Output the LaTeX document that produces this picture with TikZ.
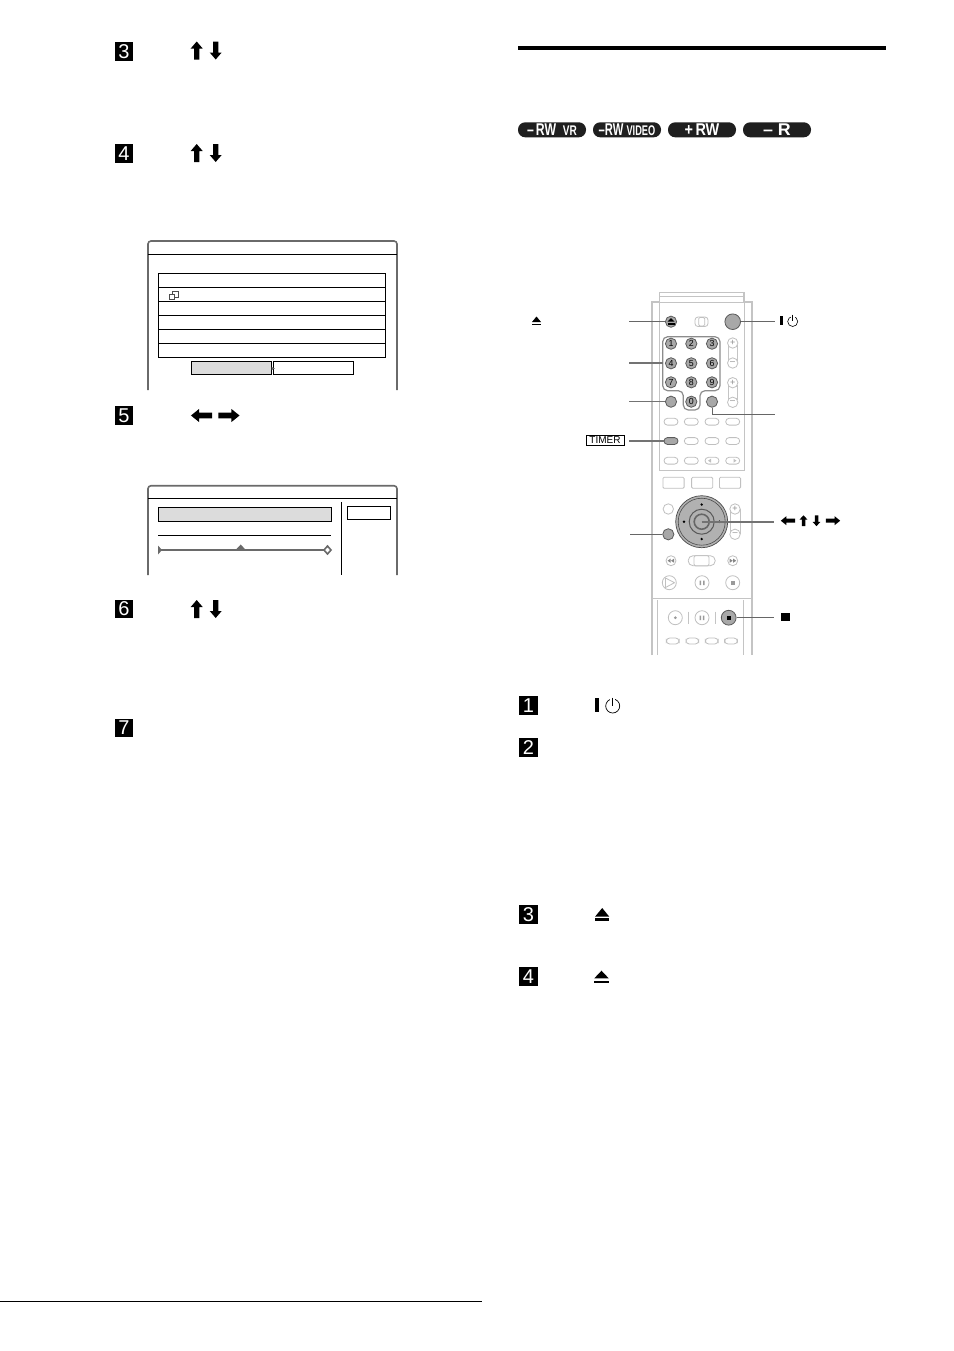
\documentclass[tikz,border=0pt]{standalone}
\usepackage{fontspec}
\usepackage{graphicx}
\setmainfont{Liberation Sans}
\definecolor{remote}{HTML}{C4C4C4}
\definecolor{btnfill}{HTML}{A8A8A8}
\definecolor{btnedge}{HTML}{5A5A5A}
\definecolor{softline}{HTML}{C0C0C0}
\definecolor{framegray}{HTML}{6A6A6A}
\definecolor{panelgray}{HTML}{DCDCDC}
\tikzset{
  numbox/.style={fill=black,text=white,minimum size=9.2pt,inner sep=0pt,font=\fontsize{10}{10}\selectfont},
  badge/.style={fill=black!88,text=white,rounded corners=3.6pt,minimum width=34pt,minimum height=7.5pt,inner sep=0pt,font=\bfseries\fontsize{8.5}{8.5}\selectfont},
  frameline/.style={draw=framegray,line width=.8pt},
  thinblack/.style={draw=black,line width=.5pt},
  leader/.style={draw=black!60,line width=.5pt},
  heavyleader/.style={draw=black!55,line width=.9pt},
  rbody/.style={draw=remote,line width=.8pt},
  rinner/.style={draw=remote,line width=.45pt},
  softbtn/.style={circle,draw=softline,line width=.4pt,fill=white,inner sep=0pt},
  softoval/.style={rectangle,draw=softline,line width=.4pt,fill=white,rounded corners=1.7pt,inner sep=0pt,minimum width=7pt,minimum height=3.4pt},
  softbox/.style={rectangle,draw=softline,line width=.4pt,fill=white,rounded corners=.6pt,inner sep=0pt,minimum width=10.6pt,minimum height=5.5pt},
  hotbtn/.style={circle,draw=btnedge,line width=.4pt,fill=btnfill,inner sep=0pt,minimum size=5.6pt},
  digitbtn/.style={hotbtn,minimum size=5.6pt,font=\fontsize{4.4}{4.4}\selectfont,text=black},
  softmark/.style={text=softline,inner sep=0pt,font=\fontsize{4.5}{4.5}\selectfont},
}
\newcommand{\myarr}[6]{\fill[shift={(#1,#2)},rotate=#3,xscale=#4,yscale=#5,#6] (0,-9)--(6,-2)--(2.7,-2)--(2.7,9)--(-2.7,9)--(-2.7,-2)--(-6,-2)--cycle;}
\begin{document}
\begin{tikzpicture}[x=.5pt,y=-.5pt]
\useasboundingbox (0,0) rectangle (954,1351);
\fill[white] (0,0) rectangle (954,1351);

% step boxes
\node[numbox] (s3) at (124,51.5) {3};
\node[numbox] (s4) at (124,153.5) {4};
\node[numbox] (s5) at (124,415.5) {5};
\node[numbox] (s6) at (124,609) {6};
\node[numbox] (s7) at (124,728) {7};
\node[numbox] (r1) at (528.5,705.5) {1};
\node[numbox] (r2) at (528.5,747.5) {2};
\node[numbox] (r3) at (528.5,914.5) {3};
\node[numbox] (r4) at (528.5,976.5) {4};

% arrow glyphs
\myarr{196.7}{50.5}{0}{1}{1}{black}
\myarr{215.7}{50.5}{180}{1}{1}{black}
\myarr{196.7}{153}{0}{1}{1}{black}
\myarr{215.7}{153}{180}{1}{1}{black}
\myarr{201.5}{415.5}{90}{1.1}{1.17}{black}
\myarr{229}{415.5}{-90}{1.1}{1.17}{black}
\myarr{196.7}{609}{0}{1}{1}{black}
\myarr{215.7}{609}{180}{1}{1}{black}

% screen 1
\draw[frameline,rounded corners=1.5pt] (148,390)--(148,241)--(397,241)--(397,390);
\draw[thinblack] (148,254.4)--(397,254.4);
\draw[thinblack] (158.3,273.3) rectangle (385.3,357.3);
\foreach \yy in {287.3,301.3,315.3,329.3,343.3} \draw[thinblack] (158.3,\yy)--(385.3,\yy);
\draw[draw=black!70,line width=.35pt] (172,291.7) rectangle (178,297);
\draw[draw=black!70,line width=.35pt,fill=white] (169.5,294.3) rectangle (174.5,299.7);
\draw[thinblack,fill=panelgray] (191.5,361.3) rectangle (271.7,374.7);
\draw[thinblack] (273.4,361.3) rectangle (353.7,374.7);
\fill[black!60] (271.7,367) -- (275,368.5) -- (271.7,370) -- cycle;

% screen 2
\draw[frameline,rounded corners=1.5pt] (148,575)--(148,485.7)--(397,485.7)--(397,575);
\draw[thinblack] (148,498.4)--(397,498.4);
\draw[thinblack,fill=panelgray] (158.3,507.3) rectangle (331.7,521.3);
\draw[thinblack] (158,535.3)--(331,535.3);
\draw[draw=framegray,line width=1.1pt] (158,550)--(328,550);
\fill[framegray] (158,545.5)--(162,550)--(158,554.5)--cycle;
\fill[framegray] (236.5,549)--(240.7,544.5)--(244.9,549)--cycle;
\draw[draw=framegray,line width=.8pt,fill=white] (324,550)--(327.5,546)--(331,550)--(327.5,554)--cycle;
\draw[thinblack] (341.3,502)--(341.3,575);
\draw[thinblack] (347.3,506.3) rectangle (390.3,519.7);

% right column head
\fill[black] (518,46) rectangle (886,50);
\node[badge] (b1) at (552,129.8) {\scalebox{.72}[1]{–\,RW\ \ \fontsize{7}{7}\selectfont VR}};
\node[badge] (b2) at (627,129.8) {\scalebox{.66}[1]{–RW\ \fontsize{7}{7}\selectfont VIDEO}};
\node[badge] (b3) at (702,129.8) {\scalebox{.85}[1]{+\,RW}};
\node[badge] (b4) at (777,129.8) {\scalebox{1.05}[1]{–\ R}};

% remote body
\draw[rbody] (651.7,655)--(651.7,302)--(659.3,302)--(659.3,292.3)--(744,292.3)--(744,302)--(751.7,302)--(751.7,655);
\draw[rinner] (659.3,296.5)--(744,296.5);
\draw[rinner] (659.3,302)--(659.3,470)--(744,470)--(744,302);
\draw[rinner] (659.3,302)--(744,302);
\draw[rbody] (651.7,598.3)--(751.7,598.3);
\draw[rinner] (657,600)--(657,655);
\draw[rinner] (743,600)--(743,655);

% number pad outline
\draw[draw=black!45,line width=.6pt,rounded corners=2.5pt] (662.7,336.7)--(720,336.7)--(720,390.7)--(700,390.7)--(700,410)--(683.3,410)--(683.3,390.7)--(662.7,390.7)--cycle;

% volume capsules
\draw[rinner] (728,345)--(728,361) (737.4,345)--(737.4,361);
\draw[rinner] (728,385)--(728,400) (737.4,385)--(737.4,400);
\node[softbtn,minimum size=5.2pt,softmark,text=black!45] (vp1) at (732.7,343) {+};
\node[softbtn,minimum size=5.2pt,softmark,text=black!45] (vm1) at (732.7,363) {–};
\node[softbtn,minimum size=5.2pt,softmark,text=black!45] (vp2) at (732.7,382.7) {+};
\node[softbtn,minimum size=5.2pt,softmark,text=black!45] (vm2) at (732.7,402.3) {–};

% upper buttons
\node[hotbtn,minimum size=5.6pt] (eject) at (671,321.7) {};
\fill[black] (667.5,321.5)--(671,318)--(674.5,321.5)--cycle;
\fill[black] (667.5,323)rectangle(674.5,324.5);
\draw[draw=softline,line width=.4pt,rounded corners=1.5pt] (695,317) rectangle (708,326.5);
\node[softbox,minimum width=3pt,minimum height=4.2pt] (sw) at (701.7,321.7) {};
\node[hotbtn,minimum size=7.8pt] (pwr) at (732.7,321.7) {};
\node[digitbtn] (k1) at (671,343.7) {1};
\node[digitbtn] (k2) at (691.3,343.7) {2};
\node[digitbtn] (k3) at (712,343.7) {3};
\node[digitbtn] (k4) at (671,363.3) {4};
\node[digitbtn] (k5) at (691.3,363.3) {5};
\node[digitbtn] (k6) at (712,363.3) {6};
\node[digitbtn] (k7) at (671,382.3) {7};
\node[digitbtn] (k8) at (691.3,382.3) {8};
\node[digitbtn] (k9) at (712,382.3) {9};
\node[digitbtn] (k0) at (691.3,401.7) {0};
\node[hotbtn] (kl) at (671,401.7) {};
\node[hotbtn] (kr) at (712,401.7) {};
\node[softoval] (o11) at (671,421.7) {};
\node[softoval] (o12) at (691.3,421.7) {};
\node[softoval] (o13) at (712,421.7) {};
\node[softoval] (o14) at (732.7,421.7) {};
\node[softoval,draw=btnedge,fill=btnfill] (timerb) at (671,441) {};
\node[softoval] (o22) at (691.3,441) {};
\node[softoval] (o23) at (712,441) {};
\node[softoval] (o24) at (732.7,441) {};
\node[softoval] (o31) at (671,460.7) {};
\node[softoval] (o32) at (691.3,460.7) {};
\node[softoval] (o33) at (712,460.7) {};
\node[softoval] (o34) at (732.7,460.7) {};
\fill[softline] (708,460.7)--(711,458.7)--(711,462.7)--cycle;
\fill[softline] (736.5,460.7)--(733.5,458.7)--(733.5,462.7)--cycle;

% middle buttons
\node[softbox] (m1) at (673.5,482.8) {};
\node[softbox] (m2) at (702.2,482.8) {};
\node[softbox] (m3) at (730,482.8) {};
\draw[rinner] (730,509)--(730,534) (740,509)--(740,534);
\node[softbtn,minimum size=5.2pt,softmark,text=black!45] (vp3) at (735,509) {+};
\node[softbtn,minimum size=5.2pt,softmark,text=black!45] (vm3) at (735,534.3) {–};
\node[softbtn,minimum size=5.2pt] (c1) at (668.3,509) {};
\node[hotbtn] (mn) at (668.3,534.3) {};
\node[circle,draw=black!70,line width=.35pt,fill=btnfill!90,minimum size=26pt,inner sep=0pt] (joy) at (701.7,521.7) {};
\draw[draw=black!70,line width=.3pt] (joy.center) circle (23.5);
\draw[draw=black!65,line width=.5pt] (joy.center) circle (12.5);
\draw[draw=black!60,line width=.8pt] (joy.center) circle (7.5);
\fill[black] (701.7,504.5) circle (1.3) (701.7,539) circle (1.3) (684,521.7) circle (1.3) (719.5,521.7) circle (1.3);

\node[softbtn,minimum size=5pt] (t1) at (671,560.7) {};
\fill[softline!70!black] (667.5,560.7)--(670.5,558.7)--(670.5,562.7)--cycle (671,560.7)--(674,558.7)--(674,562.7)--cycle;
\node[softoval,minimum width=13.5pt,minimum height=5pt,rounded corners=2.4pt] (t2) at (701.7,560.7) {};
\draw[rinner,rounded corners=1pt] (694,555.5) rectangle (709,566);
\node[softbtn,minimum size=5pt] (t3) at (732.7,560.7) {};
\fill[softline!70!black] (736.2,560.7)--(733.2,558.7)--(733.2,562.7)--cycle (732.7,560.7)--(729.7,558.7)--(729.7,562.7)--cycle;
\node[softbtn,minimum size=7pt] (p1) at (669.3,582.7) {};
\draw[draw=softline,line width=.4pt] (665.5,578)--(674.5,582.7)--(665.5,587.5)--cycle;
\node[softbtn,minimum size=7pt] (p2) at (702,582.7) {};
\fill[softline!80!black] (699.5,580.5) rectangle (701,585) (703,580.5) rectangle (704.5,585);
\node[softbtn,minimum size=7pt] (p3) at (732.7,582.7) {};
\fill[softline!80!black] (730.5,580.5) rectangle (735,585);

% lower buttons
\node[softbtn,minimum size=7pt] (l1) at (675.3,617.7) {};
\fill[softline!80!black] (675.3,617.7) circle (1.5);
\draw[rinner] (688.3,611.5)--(688.3,624);
\node[softbtn,minimum size=7pt] (l2) at (702,617.7) {};
\fill[softline!80!black] (699.7,615.5) rectangle (701.2,620) (702.9,615.5) rectangle (704.4,620);
\draw[rinner] (715,611.5)--(715,624);
\node[hotbtn,minimum size=7.4pt] (stopb) at (728.7,617.7) {};
\fill[black] (726.5,615.5) rectangle (730.9,619.9);
\node[softoval,minimum width=6.4pt,minimum height=3pt] (q1) at (672.7,641) {};
\node[softoval,minimum width=6.4pt,minimum height=3pt] (q2) at (692.3,641) {};
\node[softoval,minimum width=6.4pt,minimum height=3pt] (q3) at (711.7,641) {};
\node[softoval,minimum width=6.4pt,minimum height=3pt] (q4) at (731,641) {};

% leader ends
\coordinate (eL) at (629,321.7);
\coordinate (pL) at (775,321.7);
\coordinate (kpL) at (629,363);
\coordinate (kpR) at (662.7,363);
\coordinate (klL) at (629,401.7);
\coordinate (krL) at (775,414.3);
\coordinate (tL) at (629,441);
\coordinate (mL) at (630,534.3);
\coordinate (jL) at (773.5,521.7);
\coordinate (sL) at (774,617.7);

\draw[leader] (eL)--(eject);
\draw[leader] (pwr)--(pL);
\draw[heavyleader,line width=.6pt] (kpL)--(kpR);
\draw[heavyleader,line width=.7pt] (klL)--(kl);
\draw[leader] (kr.south)|-(krL);
\draw[heavyleader,line width=.6pt] (tL)--(timerb);
\draw[leader] (mL)--(mn);
\draw[heavyleader] (joy.center)--(jL);
\draw[leader] (stopb)--(sL);

% labels by leaders
\node[draw=black,line width=.4pt,inner sep=0pt,minimum width=19pt,minimum height=5pt,font=\fontsize{5}{5}\selectfont] (timerl) at (605,440) {TIMER};
\fill[black] (532,322)--(536.5,316.5)--(541,322)--cycle;
\fill[black] (532,323.5) rectangle (541,325);
\fill[black] (780,315.7) rectangle (783.3,324.5);
\draw[black,line width=.3pt] (792.7,321.5) circle (5);
\fill[white] (790.7,314) rectangle (794.7,318);
\draw[black,line width=.3pt] (792.7,314.5)--(792.7,321);
\myarr{788}{520.7}{90}{.75}{.8}{black}
\myarr{803.5}{520.7}{0}{.65}{.6}{black}
\myarr{816.5}{520.7}{180}{.65}{.6}{black}
\myarr{833}{520.7}{-90}{.75}{.8}{black}
\fill[black] (781.3,612.7) rectangle (790,621);

% right column steps symbols
\fill[black] (595,698.3) rectangle (599,711.7);
\draw[black,line width=.35pt] (612.7,706) circle (7);
\fill[white] (610,697) rectangle (615.4,702);
\draw[black,line width=.35pt] (612.7,697.5)--(612.7,706);
\fill[black] (595,916.7)--(602.2,908)--(609.3,916.7)--cycle;
\fill[black] (595,918.3) rectangle (609.3,920.8);
\fill[black] (594.3,978.3)--(601.5,970.7)--(608.7,978.3)--cycle;
\fill[black] (594.3,980.5) rectangle (608.7,982.8);

% footnote rule
\draw[black,line width=.5pt] (0,1301)--(482,1301);
\end{tikzpicture}
\end{document}
